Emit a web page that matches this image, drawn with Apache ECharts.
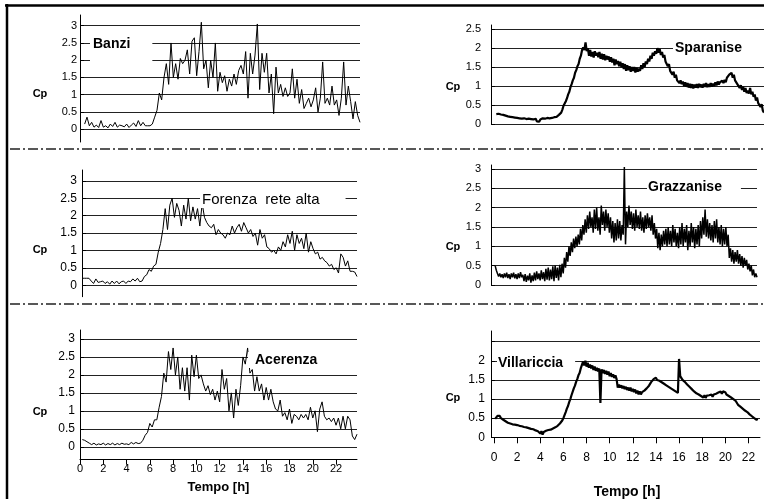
<!DOCTYPE html>
<html lang="it">
<head>
<meta charset="UTF-8">
<title>Cp</title>
<style>
  html, body { margin: 0; padding: 0; background: #fff; }
  #main { width: 764px; height: 499px; }
</style>
</head>
<body>
<div id="main"></div>
<script src="https://cdn.jsdelivr.net/npm/echarts@6/dist/echarts.min.js"></script>
<script>
// --- data: Cp over the day (time in hours) ---
const cpTicks3 = [0, 0.5, 1, 1.5, 2, 2.5, 3];
const cpTicks25 = [0, 0.5, 1, 1.5, 2, 2.5];
const cpLabels2 = [0, 0.5, 1, 1.5, 2];

const banziT0 = 0.4, banziDt = 0.2;
const banziCp = [
  0.15, 0.35, 0.1,
  0.2, 0.06, 0.12, 0.05, 0.25,
  0.06, 0.1, 0.04, 0.15, 0.08,
  0.2, 0.06, 0.12, 0.1, 0.07,
  0.15, 0.05, 0.12, 0.18, 0.08,
  0.25, 0.1, 0.2, 0.1, 0.1,
  0.1, 0.15, 0.35, 0.55, 1.05,
  0.85, 1.5, 1.9, 1.3, 2.5,
  1.5, 1.9, 1.45, 2.05, 1.9,
  2.0, 2.3, 1.6, 2.55, 2.65,
  1.55, 2.25, 3.1, 1.75, 2.0,
  1.2, 2.0, 1.5, 2.5, 1.1,
  1.65, 1.35, 1.55, 1.1, 1.45,
  1.25, 1.6, 1.3, 1.7, 1.85,
  1.6, 2.25, 0.9, 2.2, 1.6,
  2.15, 3.05, 1.15, 2.2, 1.65,
  2.2, 1.05, 1.6, 0.45, 1.8,
  1.05, 1.3, 0.95, 1.2, 0.95,
  1.05, 1.75, 0.9, 1.45, 0.75,
  1.15, 0.6, 0.75, 0.9, 0.65,
  0.85, 1.2, 0.5, 0.9, 1.95,
  0.75, 0.9, 0.7, 1.25, 0.7,
  0.85, 0.4, 0.9, 1.95, 0.7,
  1.25, 0.8, 0.3, 0.8, 0.4,
  0.2
];

const forenzaT0 = 0, forenzaDt = 0.2;
const forenzaCp = [
  0.2, 0.2, 0.2, 0.2, 0.12,
  0.05, 0.18, 0.08, 0.1, 0.12,
  0.05, 0.1, 0.03, 0.12, 0.05,
  0.12, 0.04, 0.1, 0.12, 0.05,
  0.12, 0.1, 0.18, 0.12, 0.2,
  0.1, 0.12, 0.25, 0.3, 0.45,
  0.4, 0.55, 0.6, 0.95, 1.2,
  1.6, 2.2, 1.6, 2.3, 2.5,
  1.95, 2.35, 2.15, 1.7, 2.3,
  1.9, 2.5, 1.85, 2.25, 1.9,
  2.2, 1.7, 2.35, 1.95, 1.8,
  1.7, 1.65, 1.75, 1.45, 1.6,
  1.5, 1.45, 1.35, 1.5, 1.45,
  1.7, 1.5, 1.65, 1.75, 1.55,
  1.8, 1.65, 1.5, 1.6, 1.4,
  1.5, 1.15, 1.6, 1.35, 1.45,
  1.1, 1.05, 0.95, 1.0, 0.9,
  1.1, 1.0, 1.25, 1.1, 1.45,
  1.2, 1.55, 1.0, 1.45, 1.2,
  1.35, 1.05, 1.5, 0.95, 1.25,
  1.05, 0.9, 0.95, 0.75, 0.8,
  0.7, 0.65, 0.55, 0.6, 0.45,
  0.5, 0.35, 0.9, 0.8, 0.55,
  0.7, 0.4, 0.4, 0.38, 0.25
];

const acerenzaT0 = 0.2, acerenzaDt = 0.2;
const acerenzaCp = [
  0.2, 0.18, 0.14, 0.1,
  0.06, 0.1, 0.05, 0.08, 0.06,
  0.1, 0.05, 0.09, 0.06, 0.1,
  0.05, 0.09, 0.06, 0.1, 0.07,
  0.08, 0.06, 0.12, 0.08, 0.12,
  0.09, 0.1, 0.18, 0.32, 0.4,
  0.65, 0.55, 0.75, 0.75, 1.1,
  1.4, 2.05, 1.8, 2.65, 2.15,
  2.75, 2.0, 2.5, 1.6, 2.2,
  1.55, 2.2, 1.3, 2.55, 1.95,
  2.55, 1.9, 2.0, 1.75, 1.55,
  1.7, 1.45, 1.6, 1.3, 1.55,
  1.25, 2.15, 1.6, 1.9, 1.0,
  1.5, 0.8, 1.6, 1.15, 1.7,
  2.5, 2.3, 2.75, 2.05, 2.15,
  1.55, 1.95, 1.55, 1.75, 1.3,
  1.65, 1.3, 1.6, 1.25, 1.05,
  1.0, 1.3, 0.85, 0.95, 0.75,
  1.05, 0.65, 0.9, 0.85, 0.75,
  0.9, 0.8, 0.9, 0.75, 1.1,
  0.8, 1.0, 0.42, 1.05, 1.25,
  0.85, 0.75, 0.8, 0.7, 0.8,
  0.6, 0.8, 0.5, 0.85, 0.5,
  0.85, 0.75, 0.3, 0.2, 0.35
];

const sparaniseT0 = 0.2, sparaniseDt = 0.1;
const sparaniseCp = [
  0.26, 0.22, 0.27, 0.23, 0.25, 0.21, 0.24, 0.2,
  0.22, 0.17, 0.2, 0.16, 0.19, 0.15, 0.18, 0.14, 0.17, 0.13,
  0.16, 0.12, 0.15, 0.11, 0.14, 0.1, 0.15, 0.11, 0.13, 0.09,
  0.14, 0.1, 0.13, 0.08, 0.12, 0.09, 0.14, 0.07, 0.11, 0.06,
  0.12, 0.08, 0.15, 0.1, 0.14, 0.1, 0.16, 0.11, 0.15, 0.12,
  0.16, 0.12, 0.18, 0.14, 0.19, 0.15, 0.24, 0.2, 0.3, 0.38,
  0.48, 0.52, 0.6, 0.68, 0.78, 0.85, 0.97, 1.05, 1.15, 1.22,
  1.35, 1.42, 1.52, 1.58, 1.72, 1.8, 1.95, 2.02, 1.95, 2.15,
  1.92, 2.0, 1.8, 1.95, 1.78, 1.9, 1.75, 1.92, 1.8, 1.88,
  1.76, 1.9, 1.72, 1.85, 1.7, 1.84, 1.68, 1.8, 1.7, 1.78,
  1.64, 1.76, 1.62, 1.72, 1.55, 1.7, 1.58, 1.66, 1.52, 1.64,
  1.5, 1.6, 1.45, 1.58, 1.4, 1.55, 1.42, 1.52, 1.38, 1.5,
  1.4, 1.5, 1.36, 1.48, 1.38, 1.46, 1.4, 1.55, 1.45, 1.6,
  1.5, 1.65, 1.58, 1.72, 1.65, 1.8, 1.72, 1.88, 1.8, 1.92,
  1.85, 2.0, 1.88, 1.98, 1.82, 1.9, 1.75, 1.82, 1.65, 1.7,
  1.52, 1.58, 1.4, 1.45, 1.3, 1.38, 1.22, 1.3, 1.15, 1.2,
  1.08, 1.15, 1.05, 1.12, 1.0, 1.1, 0.98, 1.08, 0.96, 1.06,
  0.95, 1.05, 0.94, 1.04, 0.96, 1.05, 0.95, 1.06, 0.97, 1.04,
  0.96, 1.06, 0.98, 1.08, 0.97, 1.05, 0.98, 1.08, 0.99, 1.06,
  1.0, 1.1, 1.02, 1.12, 1.04, 1.1, 1.05, 1.14, 1.08, 1.16,
  1.1, 1.22, 1.18, 1.3, 1.25, 1.35, 1.22, 1.3, 1.15, 1.2,
  1.05, 1.1, 0.95, 1.02, 0.9, 0.98, 0.85, 0.95, 0.82, 0.88,
  0.8, 0.95, 0.78, 0.85, 0.72, 0.78, 0.62, 0.7, 0.55, 0.6,
  0.45, 0.52, 0.35, 0.3
];

const grazzaniseT0 = 0.1, grazzaniseDt = 0.1;
const grazzaniseCp = [
  0.5, 0.38, 0.3, 0.22, 0.3, 0.2, 0.28, 0.18, 0.3,
  0.2, 0.32, 0.18, 0.28, 0.15, 0.3, 0.2, 0.32, 0.17, 0.28,
  0.15, 0.3, 0.18, 0.33, 0.2, 0.26, 0.1, 0.28, 0.08, 0.24,
  0.12, 0.3, 0.06, 0.25, 0.1, 0.32, 0.12, 0.35, 0.15, 0.3,
  0.12, 0.38, 0.15, 0.33, 0.1, 0.42, 0.14, 0.45, 0.12, 0.4,
  0.15, 0.48, 0.1, 0.5, 0.18, 0.45, 0.12, 0.52, 0.2, 0.55,
  0.3, 0.7, 0.45, 0.85, 0.6, 1.0, 0.75, 1.1, 0.85, 1.2,
  0.95, 1.25, 1.0, 1.3, 1.05, 1.45, 1.15, 1.55, 1.3, 1.7,
  1.35, 1.8, 1.45, 1.9, 1.5, 1.75, 1.35, 1.95, 1.45, 2.0,
  1.4, 1.75, 1.3, 2.05, 1.55, 1.9, 1.4, 1.95, 1.5, 1.85,
  1.35, 1.75, 1.2, 1.65, 1.1, 1.6, 1.15, 1.7, 1.2, 1.65,
  1.15, 1.55, 1.3, 3.05, 1.05, 1.9, 1.5, 2.05, 1.55, 1.9,
  1.45, 1.85, 1.4, 1.95, 1.5, 1.8, 1.45, 1.9, 1.4, 1.75,
  1.35, 1.8, 1.45, 1.85, 1.5, 1.75, 1.4, 1.8, 1.3, 1.6,
  1.2, 1.45, 0.95, 1.35, 0.9, 1.3, 1.0, 1.4, 1.05, 1.45,
  1.0, 1.5, 1.05, 1.4, 1.0, 1.55, 1.1, 1.45, 1.0, 1.35,
  0.95, 1.5, 1.05, 1.6, 1.0, 1.45, 1.1, 1.55, 0.9, 1.4,
  1.0, 1.6, 1.1, 1.5, 0.95, 1.45, 1.05, 1.55, 1.0, 1.65,
  1.2, 1.75, 1.3, 1.95, 1.25, 1.7, 1.2, 1.6, 1.15, 1.55,
  1.1, 1.65, 1.2, 1.7, 1.1, 1.5, 1.05, 1.55, 1.0, 1.45,
  1.05, 1.5, 1.0, 1.3, 0.7, 0.95, 0.6, 0.9, 0.55, 0.85,
  0.6, 0.9, 0.55, 0.8, 0.5, 0.75, 0.45, 0.7, 0.5, 0.65,
  0.4, 0.55, 0.35, 0.5, 0.25, 0.4, 0.2, 0.3, 0.2
];

const villarricciaT0 = 0.1, villarricciaDt = 0.1;
const villarricciaCp = [
  0.48, 0.52, 0.56, 0.53, 0.56, 0.5, 0.52, 0.46, 0.48,
  0.42, 0.45, 0.38, 0.41, 0.36, 0.4, 0.34, 0.38, 0.33, 0.37,
  0.32, 0.36, 0.3, 0.34, 0.29, 0.33, 0.27, 0.31, 0.26, 0.3,
  0.24, 0.28, 0.22, 0.26, 0.21, 0.25, 0.18, 0.22, 0.16, 0.2,
  0.1, 0.16, 0.07, 0.14, 0.1, 0.17, 0.12, 0.19, 0.14, 0.2,
  0.17, 0.23, 0.2, 0.26, 0.24, 0.3, 0.3, 0.36, 0.38, 0.44,
  0.5, 0.58, 0.66, 0.75, 0.82, 0.92, 1.0, 1.1, 1.15, 1.28,
  1.35, 1.45, 1.52, 1.62, 1.68, 1.8, 1.85, 1.98, 1.88, 2.0,
  1.85, 1.95, 1.82, 1.9, 1.8, 1.88, 1.76, 1.85, 1.74, 1.82,
  1.72, 1.8, 0.9, 1.78, 1.68, 1.76, 1.66, 1.74, 1.64, 1.72,
  1.6, 1.68, 1.58, 1.65, 1.55, 1.62, 1.52, 1.3, 1.38, 1.3,
  1.36, 1.28, 1.34, 1.26, 1.32, 1.24, 1.3, 1.22, 1.3, 1.2,
  1.27, 1.18, 1.25, 1.15, 1.22, 1.12, 1.2, 1.12, 1.18, 1.14,
  1.22, 1.18, 1.28, 1.25, 1.35, 1.32, 1.45, 1.42, 1.52, 1.48,
  1.56, 1.5, 1.55, 1.48, 1.52, 1.44, 1.48, 1.4, 1.44, 1.36,
  1.4, 1.32, 1.36, 1.28, 1.32, 1.24, 1.28, 1.2, 1.25, 1.16,
  2.05, 1.6, 1.55, 1.5, 1.52, 1.45, 1.46, 1.38, 1.4, 1.32,
  1.34, 1.26, 1.28, 1.2, 1.22, 1.15, 1.18, 1.12, 1.15, 1.08,
  1.1, 1.04, 1.1, 1.03, 1.09, 1.04, 1.1, 1.05, 1.12, 1.06,
  1.12, 1.07, 1.14, 1.09, 1.17, 1.12, 1.2, 1.14, 1.2, 1.15,
  1.18, 1.12, 1.15, 1.08, 1.12, 1.04, 1.08, 1.0, 1.04, 0.95,
  0.9, 0.85, 0.88, 0.8, 0.82, 0.75, 0.78, 0.7, 0.72, 0.66,
  0.68, 0.6, 0.62, 0.55, 0.58, 0.5, 0.52, 0.46, 0.48
];

// --- layout ---
const FONT = '"Liberation Sans", Arial, Helvetica, sans-serif';

function toPoints(vals, t0, dt) {
  return vals.map((v, i) => [+(t0 + i * dt).toFixed(2), v]);
}

const panels = [
  { name: 'Banzi', data: toPoints(banziCp, banziT0, banziDt),
    grid: { left: 80, top: 15, width: 280, height: 127 }, yMin: -0.37, yMax: 3.31, xMax: 24,
    offset: 0, lines: cpTicks3, labels: cpTicks3, labMargin: 3, labSize: 11, lw: 1,
    box: { left: 90, top: 36, padding: [0, 22, 12, 3], bold: true, size: 14 }, cp: [40, 94] },
  { name: 'Sparanise', data: toPoints(sparaniseCp, sparaniseT0, sparaniseDt),
    grid: { left: 494, top: 25, width: 270, height: 99 }, yMin: 0, yMax: 2.61, xMax: 23.3,
    offset: 3, lines: cpTicks25, labels: cpTicks25, labMargin: 10, labSize: 11, lw: 2.2,
    box: { left: 673, top: 40, padding: [0, 30, 0, 2], bold: true, size: 14 }, cp: [453, 87] },
  { name: 'Forenza  rete alta', data: toPoints(forenzaCp, forenzaT0, forenzaDt),
    grid: { left: 82, top: 170, width: 275, height: 126.7 }, yMin: -0.33, yMax: 3.31, xMax: 23.8,
    offset: 0, lines: cpTicks3, labels: cpTicks3, labMargin: 5, labSize: 12, lw: 1,
    box: { left: 200, top: 192, padding: [0, 26, 0, 2], bold: false, size: 15 }, cp: [40, 250] },
  { name: 'Grazzanise', data: toPoints(grazzaniseCp, grazzaniseT0, grazzaniseDt),
    grid: { left: 494, top: 165, width: 263, height: 120 }, yMin: 0, yMax: 3.1, xMax: 22.8,
    offset: 3, lines: cpTicks3, labels: cpTicks3, labMargin: 10, labSize: 11, lw: 1.5,
    box: { left: 647, top: 179, padding: [0, 19, 0, 1], bold: true, size: 14 }, cp: [453, 247] },
  { name: 'Acerenza', data: toPoints(acerenzaCp, acerenzaT0, acerenzaDt),
    grid: { left: 80, top: 330, width: 277, height: 129.7 }, yMin: -0.36, yMax: 3.25, xMax: 23.8,
    offset: 0, lines: cpTicks3, labels: cpTicks3, labMargin: 5, labSize: 12, lw: 1,
    box: { left: 248, top: 352, padding: [0, 40, 0, 7], bold: true, size: 14 }, cp: [40, 412],
    xAxis: { margin: 4, tick: 5, size: 11, nameGap: 21, nameSize: 13 } },
  { name: 'Villariccia', data: toPoints(villarricciaCp, villarricciaT0, villarricciaDt),
    grid: { left: 494, top: 331, width: 266, height: 106.3 }, yMin: 0, yMax: 2.78, xMax: 23,
    offset: 3, lines: cpTicks25, labels: cpLabels2, labMargin: 6, labSize: 12, lw: 2.2,
    box: { left: 497, top: 355, padding: [0, 12, 0, 1], bold: true, size: 14 }, cp: [453, 398],
    xAxis: { margin: 14, tick: 6, size: 12, nameGap: 48, nameSize: 14 } }
];

const option = {
  animation: false,
  backgroundColor: '#fff',
  textStyle: { fontFamily: FONT, color: '#000' },
  grid: panels.map(p => Object.assign({ outerBoundsMode: 'none', containLabel: false }, p.grid)),
  xAxis: panels.map((p, i) => {
    if (!p.xAxis) return { type: 'value', gridIndex: i, min: 0, max: p.xMax, show: false };
    return {
      type: 'value', gridIndex: i, min: 0, max: p.xMax, interval: 2,
      axisLine: { onZero: false, lineStyle: { color: '#000', width: 1 } },
      axisTick: { show: true, length: p.xAxis.tick, lineStyle: { color: '#000' } },
      axisLabel: { margin: p.xAxis.margin, fontSize: p.xAxis.size, color: '#000', fontFamily: FONT, showMaxLabel: false },
      splitLine: { show: false },
      name: 'Tempo [h]', nameLocation: 'middle', nameGap: p.xAxis.nameGap,
      nameTextStyle: { fontWeight: 'bold', fontSize: p.xAxis.nameSize, fontFamily: FONT, color: '#000' }
    };
  }),
  yAxis: panels.map((p, i) => ({
    type: 'value', gridIndex: i, min: p.yMin, max: p.yMax, offset: p.offset,
    axisLine: { show: true, onZero: false, lineStyle: { color: '#000', width: 1 } },
    axisTick: { show: true, inside: true, length: 4, customValues: p.lines, lineStyle: { color: '#000' } },
    axisLabel: { customValues: p.labels, margin: p.labMargin, fontSize: p.labSize, color: '#000', fontFamily: FONT },
    splitLine: { show: true, lineStyle: { color: '#222', width: 1 } }
  })),
  title: panels.map(p => ({
    text: p.name, left: p.box.left, top: p.box.top, padding: p.box.padding,
    backgroundColor: '#fff',
    textStyle: { fontSize: p.box.size, fontWeight: p.box.bold ? 'bold' : 'normal', fontFamily: FONT, color: '#000', lineHeight: 16 }
  })),
  graphic: [
    // frame (top and left edge) and dash-dot row separators
    { type: 'line', shape: { x1: 5, y1: 5.5, x2: 764, y2: 5.5 }, style: { stroke: '#000', lineWidth: 2.5 } },
    { type: 'line', shape: { x1: 7, y1: 4, x2: 7, y2: 499 }, style: { stroke: '#000', lineWidth: 2.5 } },
    { type: 'line', shape: { x1: 10, y1: 149, x2: 764, y2: 149 }, style: { stroke: '#222', lineWidth: 1.5, lineDash: [10, 3, 2, 3] } },
    { type: 'line', shape: { x1: 10, y1: 304, x2: 764, y2: 304 }, style: { stroke: '#222', lineWidth: 1.5, lineDash: [10, 3, 2, 3] } }
  ].concat(panels.map(p => ({
    type: 'text', x: p.cp[0], y: p.cp[1],
    style: { text: 'Cp', font: 'bold 11px ' + FONT, fill: '#000', align: 'center', verticalAlign: 'middle', textAlign: 'center', textVerticalAlign: 'middle' }
  }))),
  series: panels.map((p, i) => ({
    type: 'line', xAxisIndex: i, yAxisIndex: i, data: p.data,
    showSymbol: false, symbol: 'none', smooth: false,
    lineStyle: { color: '#000', width: p.lw }
  }))
};

const myChart = echarts.init(document.getElementById('main'));
myChart.setOption(option);
</script>
</body>
</html>
